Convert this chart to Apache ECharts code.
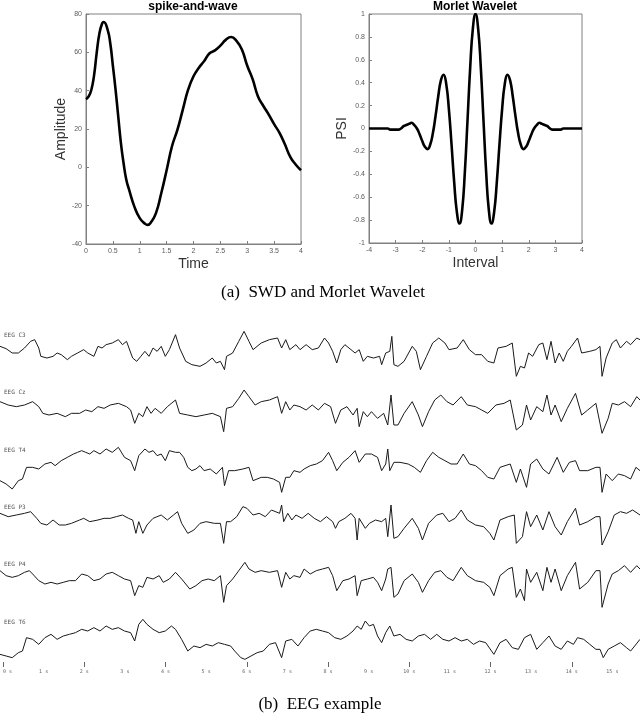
<!DOCTYPE html>
<html>
<head>
<meta charset="utf-8">
<script src="https://cdn.jsdelivr.net/npm/echarts@6/dist/echarts.min.js"></script>
<style>
  html, body { margin: 0; padding: 0; background: #fff; }
  #chart { width: 640px; height: 718px; }
</style>
</head>
<body>
<div id="chart"></div>
<script>
  // (a) spike-and-wave template: [time, amplitude]
  const swdCurve = [[0,35.5],[0.05,37],[0.1,40.5],[0.15,48],[0.2,60],[0.25,70],[0.3,75],[0.33,75.8],[0.4,72],[0.45,65],
    [0.5,53],[0.55,40.5],[0.6,26.5],[0.65,12.5],[0.7,2],[0.75,-6.5],[0.8,-11.5],[0.9,-20.5],[1.0,-26.5],[1.1,-29.5],
    [1.15,-30],[1.2,-29],[1.3,-24],[1.4,-13.5],[1.5,-1.5],[1.6,11],[1.7,19.5],[1.8,30],[1.9,40.5],[2.0,47.5],
    [2.1,52],[2.2,55.5],[2.3,59.5],[2.4,61],[2.5,63.5],[2.6,66.5],[2.7,68],[2.8,66],[2.9,61.5],[3.0,53],
    [3.1,46],[3.2,37],[3.3,32],[3.4,27.5],[3.5,22.5],[3.6,18],[3.7,12],[3.8,5.5],[3.9,1.5],[4.0,-1.5]]

  // (a) Morlet wavelet, psi sampled at interval -4 .. 4 every 0.1
  const morletPsi = [0,0,0,0,0,0,0,0,-0.01,-0.01,-0.01,-0.01,0,0.02,0.03,0.04,0.05,0.03,0,-0.05,
    -0.11,-0.16,-0.18,-0.14,-0.04,0.11,0.28,0.42,0.47,0.39,0.17,-0.14,-0.47,-0.73,-0.83,-0.71,-0.38,0.07,0.53,0.87,
    1,
    0.87,0.53,0.07,-0.38,-0.71,-0.83,-0.73,-0.47,-0.14,0.17,0.39,0.47,0.42,0.28,0.11,-0.04,-0.14,-0.18,-0.16,
    -0.11,-0.05,0,0.03,0.05,0.04,0.03,0.02,0,-0.01,-0.01,-0.01,-0.01,0,0,0,0,0,0,0,0]

  // (b) EEG channels: [seconds, amplitude]
  const eegChannels = ['EEG C3', 'EEG Cz', 'EEG T4', 'EEG P3', 'EEG P4', 'EEG T6']

  const eegC3 = [[0,15],[0.15,8],[0.3,-5],[0.45,-5],[0.6,10],[0.75,30],[0.85,35],[0.95,10],[1.0,-15],[1.15,-20],
    [1.3,-15],[1.4,-5],[1.5,-10],[1.65,-25],[1.75,-15],[1.9,-5],[2.05,5],[2.15,-5],[2.3,-15],[2.4,15],
    [2.5,10],[2.6,20],[2.75,25],[2.9,35],[3.0,20],[3.1,30],[3.25,-20],[3.35,-30],[3.45,-15],[3.55,0],
    [3.65,-15],[3.75,10],[3.85,0],[3.95,15],[4.05,-15],[4.15,5],[4.3,50],[4.4,10],[4.55,-30],[4.7,-40],
    [4.9,-45],[5.05,-35],[5.2,-20],[5.3,-35],[5.4,-30],[5.5,-55],[5.55,-15],[5.7,-5],[5.85,30],[5.98,60],
    [6.1,30],[6.2,5],[6.4,25],[6.6,35],[6.8,40],[6.9,10],[7.0,35],[7.1,5],[7.25,20],[7.35,5],
    [7.5,20],[7.65,5],[7.8,10],[7.95,40],[8.05,25],[8.15,0],[8.25,-35],[8.35,5],[8.45,20],[8.6,5],
    [8.7,-5],[8.8,5],[8.9,-30],[9.0,-15],[9.15,-20],[9.3,-15],[9.35,-40],[9.45,-5],[9.55,0],[9.6,45],
    [9.65,-40],[9.75,-45],[9.9,-30],[10.1,15],[10.2,0],[10.3,-55],[10.45,-15],[10.6,25],[10.75,40],[10.9,25],
    [11.0,5],[11.2,10],[11.35,35],[11.5,5],[11.65,-10],[11.8,-10],[11.95,-30],[12.1,-35],[12.2,10],[12.4,15],
    [12.55,25],[12.65,-75],[12.75,-45],[12.85,-50],[12.95,-5],[13.05,-15],[13.2,20],[13.3,25],[13.4,-25],[13.5,30],
    [13.6,-35],[13.7,-5],[13.8,-30],[13.9,0],[14.0,15],[14.15,40],[14.25,-5],[14.45,0],[14.6,5],[14.7,15],
    [14.75,-75],[14.85,-20],[15.0,25],[15.1,35],[15.2,10],[15.35,30],[15.45,20],[15.6,40],[15.68,35]]

  const eegCz = [[0,20],[0.2,10],[0.4,5],[0.6,10],[0.8,20],[0.95,5],[1.05,-15],[1.2,-20],[1.4,-15],[1.6,-25],
    [1.75,-15],[1.95,-15],[2.1,-5],[2.25,-10],[2.4,5],[2.55,0],[2.7,10],[2.9,15],[3.1,5],[3.2,-5],
    [3.3,-45],[3.4,-15],[3.5,-25],[3.6,5],[3.7,-15],[3.8,0],[3.95,-15],[4.1,5],[4.3,25],[4.4,-15],
    [4.6,-20],[4.8,-25],[5.0,-20],[5.2,-15],[5.4,-25],[5.48,-70],[5.55,0],[5.7,5],[5.85,30],[5.98,55],
    [6.1,35],[6.25,10],[6.4,20],[6.6,25],[6.8,35],[6.9,-15],[7.0,20],[7.1,-5],[7.2,10],[7.35,5],
    [7.5,-5],[7.65,10],[7.8,-5],[7.95,15],[8.1,5],[8.22,-45],[8.35,-5],[8.5,5],[8.65,-20],[8.75,0],
    [8.8,-55],[8.9,-10],[9.0,-25],[9.1,-10],[9.25,-30],[9.4,-15],[9.5,-50],[9.58,40],[9.65,-50],[9.75,-50],
    [9.9,-15],[10.1,20],[10.25,-20],[10.35,-55],[10.5,-10],[10.65,25],[10.8,40],[10.95,20],[11.1,10],[11.3,35],
    [11.45,10],[11.65,5],[11.8,-5],[11.95,-15],[12.15,10],[12.35,15],[12.5,25],[12.65,-65],[12.8,-50],[12.9,10],
    [13.0,-35],[13.15,5],[13.3,-10],[13.4,40],[13.5,-20],[13.6,10],[13.75,-40],[13.9,0],[14.1,45],[14.25,-20],
    [14.4,-5],[14.6,15],[14.75,-75],[14.9,-30],[15.0,15],[15.15,10],[15.3,20],[15.45,5],[15.6,35],[15.68,25]]

  const eegT4 = [[0,-40],[0.15,-50],[0.3,-65],[0.45,-40],[0.55,-35],[0.65,0],[0.8,0],[0.95,-5],[1.1,10],[1.25,15],
    [1.35,5],[1.5,20],[1.65,30],[1.8,40],[1.9,45],[2.0,50],[2.1,45],[2.2,40],[2.3,50],[2.45,40],
    [2.6,55],[2.75,45],[2.9,60],[3.05,30],[3.2,20],[3.3,-10],[3.4,35],[3.55,55],[3.65,45],[3.75,50],
    [3.85,35],[3.95,40],[4.05,20],[4.15,50],[4.3,45],[4.4,45],[4.5,30],[4.6,0],[4.7,-10],[4.8,-5],
    [4.9,5],[5.0,-10],[5.15,-5],[5.3,-20],[5.45,0],[5.5,-55],[5.6,-10],[5.75,-10],[5.95,-5],[6.1,0],
    [6.2,-40],[6.4,-30],[6.55,-30],[6.7,-35],[6.85,-45],[6.9,-75],[7.0,-30],[7.1,-30],[7.2,-10],[7.35,-15],
    [7.45,-5],[7.6,5],[7.75,10],[7.9,20],[8.05,45],[8.15,20],[8.25,-10],[8.4,15],[8.55,30],[8.7,50],
    [8.8,15],[8.95,40],[9.1,40],[9.25,30],[9.35,-10],[9.45,10],[9.5,55],[9.55,-10],[9.65,15],[9.8,15],
    [10.0,10],[10.15,0],[10.3,-15],[10.45,20],[10.6,45],[10.75,30],[10.9,20],[11.05,10],[11.2,10],[11.35,40],
    [11.5,10],[11.65,5],[11.8,-10],[11.95,-30],[12.1,-35],[12.25,0],[12.5,10],[12.65,-45],[12.75,-5],[12.9,-60],
    [13.0,10],[13.15,25],[13.3,-5],[13.45,-20],[13.65,30],[13.8,-15],[13.95,15],[14.1,20],[14.2,-10],[14.4,-10],
    [14.6,0],[14.7,0],[14.75,-75],[14.85,-20],[15.0,-40],[15.15,-20],[15.3,-25],[15.45,-35],[15.58,0],[15.68,-10]]

  const eegP3 = [[0,30],[0.2,20],[0.4,25],[0.6,30],[0.75,35],[0.9,15],[1.0,0],[1.15,-5],[1.3,10],[1.45,-5],
    [1.6,-5],[1.75,0],[1.95,10],[2.05,15],[2.2,5],[2.4,10],[2.55,15],[2.7,15],[2.85,20],[3.0,25],
    [3.15,15],[3.25,10],[3.33,-30],[3.4,5],[3.5,-30],[3.6,-5],[3.75,15],[3.95,25],[4.1,10],[4.25,25],
    [4.35,35],[4.45,0],[4.6,-30],[4.75,-20],[4.9,0],[5.05,5],[5.25,0],[5.4,0],[5.48,-60],[5.55,5],
    [5.65,5],[5.8,20],[5.95,50],[6.05,45],[6.2,25],[6.35,30],[6.5,20],[6.65,40],[6.85,30],[6.9,55],
    [6.95,5],[7.05,30],[7.15,10],[7.25,25],[7.4,15],[7.55,30],[7.7,15],[7.85,5],[8.0,20],[8.15,5],
    [8.22,-15],[8.3,5],[8.45,15],[8.6,30],[8.7,15],[8.75,-50],[8.8,15],[8.95,-15],[9.05,0],[9.2,10],
    [9.35,5],[9.45,15],[9.5,-40],[9.58,55],[9.65,-45],[9.75,-40],[9.9,-15],[10.1,15],[10.25,-15],[10.35,-50],
    [10.5,0],[10.7,25],[10.85,30],[11.0,5],[11.15,15],[11.3,40],[11.45,10],[11.65,-5],[11.85,-10],[12.0,-30],
    [12.1,-50],[12.25,10],[12.45,20],[12.6,25],[12.65,-60],[12.8,-40],[12.9,35],[13.0,-10],[13.15,25],[13.3,-20],
    [13.45,35],[13.6,-10],[13.75,-35],[13.9,5],[14.1,45],[14.2,-5],[14.4,5],[14.6,20],[14.7,20],[14.75,-65],
    [14.9,-25],[15.05,25],[15.2,35],[15.35,30],[15.5,40],[15.68,25]]

  const eegP4 = [[0,35],[0.15,20],[0.3,15],[0.45,20],[0.6,30],[0.72,35],[0.8,25],[0.95,5],[1.1,-5],[1.25,0],
    [1.4,-5],[1.55,0],[1.7,5],[1.85,5],[2.0,25],[2.15,20],[2.3,5],[2.45,10],[2.6,25],[2.75,30],
    [2.9,20],[3.05,10],[3.2,5],[3.3,-40],[3.4,-10],[3.5,-15],[3.6,15],[3.75,10],[3.9,20],[4.0,0],
    [4.15,10],[4.3,30],[4.45,10],[4.65,-20],[4.8,-10],[4.95,5],[5.1,10],[5.25,5],[5.4,20],[5.48,-60],
    [5.55,-10],[5.7,10],[5.85,35],[6.0,60],[6.1,40],[6.25,30],[6.4,35],[6.6,30],[6.8,35],[6.9,-15],
    [7.0,30],[7.1,10],[7.2,20],[7.35,15],[7.45,40],[7.6,25],[7.75,35],[7.9,40],[8.05,45],[8.15,20],
    [8.25,-25],[8.4,5],[8.55,10],[8.7,20],[8.75,-40],[8.85,5],[9.0,10],[9.15,15],[9.25,0],[9.35,-25],
    [9.45,10],[9.5,40],[9.58,45],[9.65,-45],[9.75,-35],[9.9,5],[10.1,25],[10.25,0],[10.35,-30],[10.5,5],
    [10.65,30],[10.8,35],[10.95,15],[11.1,5],[11.3,45],[11.45,20],[11.65,5],[11.85,0],[12.0,-15],[12.1,-40],
    [12.25,20],[12.45,40],[12.55,45],[12.65,-45],[12.75,-20],[12.85,-55],[12.9,40],[13.0,0],[13.15,30],[13.3,-25],
    [13.4,45],[13.5,0],[13.6,40],[13.75,-25],[13.9,20],[14.1,60],[14.2,-20],[14.4,0],[14.6,35],[14.7,35],
    [14.75,-75],[14.9,-5],[15.0,25],[15.15,35],[15.3,50],[15.45,30],[15.6,50],[15.68,40]]

  const eegT6 = [[0,-45],[0.15,-50],[0.3,-55],[0.45,-40],[0.55,-35],[0.65,5],[0.8,0],[0.95,-15],[1.1,5],[1.25,15],
    [1.4,0],[1.55,10],[1.7,15],[1.85,20],[2.0,30],[2.15,25],[2.3,35],[2.45,25],[2.6,40],[2.75,30],
    [2.9,35],[3.05,25],[3.2,20],[3.3,-5],[3.4,45],[3.5,60],[3.6,45],[3.75,30],[3.9,20],[4.05,25],
    [4.2,40],[4.3,30],[4.45,0],[4.6,-35],[4.75,-20],[4.9,-25],[5.05,-15],[5.2,-20],[5.35,-10],[5.5,-15],
    [5.65,-20],[5.75,-35],[5.9,-55],[6.0,-60],[6.15,-50],[6.3,-40],[6.45,-35],[6.6,-15],[6.75,-10],[6.9,-55],
    [7.0,-5],[7.15,0],[7.3,-20],[7.45,5],[7.6,25],[7.75,30],[7.9,25],[8.05,20],[8.2,5],[8.35,0],
    [8.5,10],[8.65,25],[8.75,40],[8.85,30],[8.95,55],[9.05,40],[9.15,45],[9.25,10],[9.35,-10],[9.45,20],
    [9.55,40],[9.65,10],[9.8,15],[9.95,0],[10.1,-5],[10.25,10],[10.4,15],[10.55,0],[10.7,15],[10.85,0],
    [11.0,-5],[11.15,5],[11.3,-5],[11.45,0],[11.6,-15],[11.75,-5],[11.9,-10],[12.1,-45],[12.25,-10],[12.4,0],
    [12.55,-25],[12.7,-30],[12.85,5],[13.0,15],[13.15,-30],[13.3,-10],[13.45,10],[13.6,-20],[13.75,-30],[13.9,-5],
    [14.05,-15],[14.15,5],[14.3,0],[14.45,-15],[14.6,-30],[14.7,-30],[14.78,-55],[14.9,-30],[15.05,-20],[15.2,-10],
    [15.35,-25],[15.45,-35],[15.55,-20],[15.68,0]]

  const eegTraces = [eegC3, eegCz, eegT4, eegP3, eegP4, eegT6]
  const eegTops = [328, 385, 444, 500, 559, 616]
  const eegLabelY = [335, 392, 450, 507, 564, 622]
  const eegSeconds = 15.68

  const axisGray = '#808080'
  const tickText = { fontSize: 7, color: '#5a5a5a', fontFamily: 'Liberation Sans' }
  const nameText = { fontSize: 14, color: '#333', fontFamily: 'Liberation Sans' }

  function plotX(grid, min, max, interval, name) {
    return {
      type: 'value', gridIndex: grid, min: min, max: max, interval: interval, position: 'bottom',
      name: name, nameLocation: 'middle', nameGap: 13, nameTextStyle: nameText,
      axisLine: { show: true, onZero: false, lineStyle: { color: axisGray, width: 1 } },
      axisTick: { show: true, inside: true, length: 3, lineStyle: { color: axisGray } },
      axisLabel: Object.assign({ margin: 4 }, tickText),
      splitLine: { show: false }
    }
  }
  function plotY(grid, min, max, interval, name, gap) {
    return {
      type: 'value', gridIndex: grid, min: min, max: max, interval: interval, position: 'left',
      name: name, nameLocation: 'middle', nameGap: gap, nameTextStyle: nameText,
      axisLine: { show: true, onZero: false, lineStyle: { color: axisGray, width: 1 } },
      axisTick: { show: true, inside: true, length: 3, lineStyle: { color: axisGray } },
      axisLabel: Object.assign({ margin: 4 }, tickText),
      splitLine: { show: false }
    }
  }

  let grids = [
    { left: 86, top: 14, width: 215, height: 230, show: true, borderColor: axisGray, borderWidth: 1 },
    { left: 369, top: 14, width: 213, height: 229, show: true, borderColor: axisGray, borderWidth: 1 }
  ]
  let xAxes = [plotX(0, 0, 4, 0.5, 'Time'), plotX(1, -4, 4, 1, 'Interval')]
  let yAxes = [plotY(0, -40, 80, 20, 'Amplitude', 15), plotY(1, -1, 1, 0.2, 'PSI', 18)]
  let series = [
    { type: 'line', xAxisIndex: 0, yAxisIndex: 0, data: swdCurve, smooth: true, showSymbol: false,
      lineStyle: { color: '#000', width: 2.6 } },
    { type: 'line', xAxisIndex: 1, yAxisIndex: 1, data: morletPsi.map((v, i) => [(i - 40) / 10, v]),
      smooth: true, showSymbol: false, lineStyle: { color: '#000', width: 2.6 } }
  ]

  eegTraces.forEach((trace, i) => {
    const g = grids.length
    grids.push({ left: 0, right: 0, top: eegTops[i], height: 60 })
    xAxes.push({ type: 'value', gridIndex: g, min: 0, max: eegSeconds, show: false })
    yAxes.push({ type: 'value', gridIndex: g, min: -110, max: 70, show: false })
    series.push({ type: 'line', xAxisIndex: g, yAxisIndex: g, data: trace, showSymbol: false,
      clip: false, lineStyle: { color: '#1a1a1a', width: 1 } })
  })

  // time scale under the traces
  const tg = grids.length
  grids.push({ left: 0, right: 0, top: 600, height: 62 })
  xAxes.push({
    type: 'value', gridIndex: tg, min: 0, max: eegSeconds, interval: 1, position: 'bottom',
    axisLine: { show: false }, axisTick: { show: false }, splitLine: { show: false },
    axisLabel: { margin: 7, fontSize: 5, color: '#666', fontFamily: 'DejaVu Sans Mono',
      showMaxLabel: false, alignMinLabel: 'left', formatter: v => v + ' s' }
  })
  xAxes.push({
    type: 'value', gridIndex: tg, min: 0, max: eegSeconds, interval: 2, position: 'bottom',
    axisLine: { show: false }, splitLine: { show: false }, axisLabel: { show: false },
    axisTick: { show: true, length: 5, lineStyle: { color: '#666' } }
  })
  yAxes.push({ type: 'value', gridIndex: tg, min: 0, max: 1, show: false })

  let graphic = [
    { type: 'text', x: 193, y: 7, style: { text: 'spike-and-wave', font: 'bold 12px Liberation Sans',
      fill: '#000', align: 'center', verticalAlign: 'middle' } },
    { type: 'text', x: 475, y: 7, style: { text: 'Morlet Wavelet', font: 'bold 12px Liberation Sans',
      fill: '#000', align: 'center', verticalAlign: 'middle' } },
    { type: 'text', x: 323, y: 293, style: { text: '(a)  SWD and Morlet Wavelet', font: '17px Liberation Serif',
      fill: '#000', align: 'center', verticalAlign: 'middle' } },
    { type: 'text', x: 320, y: 705, style: { text: '(b)  EEG example', font: '17px Liberation Serif',
      fill: '#000', align: 'center', verticalAlign: 'middle' } }
  ]
  eegChannels.forEach((name, i) => {
    graphic.push({ type: 'text', x: 4, y: eegLabelY[i], style: { text: name,
      font: '6px DejaVu Sans Mono', fill: '#555', align: 'left', verticalAlign: 'middle' } })
  })

  const myChart = echarts.init(document.getElementById('chart'))
  myChart.setOption({
    animation: false,
    backgroundColor: '#fff',
    grid: grids,
    xAxis: xAxes,
    yAxis: yAxes,
    series: series,
    graphic: graphic
  })
  window.addEventListener('resize', myChart.resize)
</script>
</body>
</html>
